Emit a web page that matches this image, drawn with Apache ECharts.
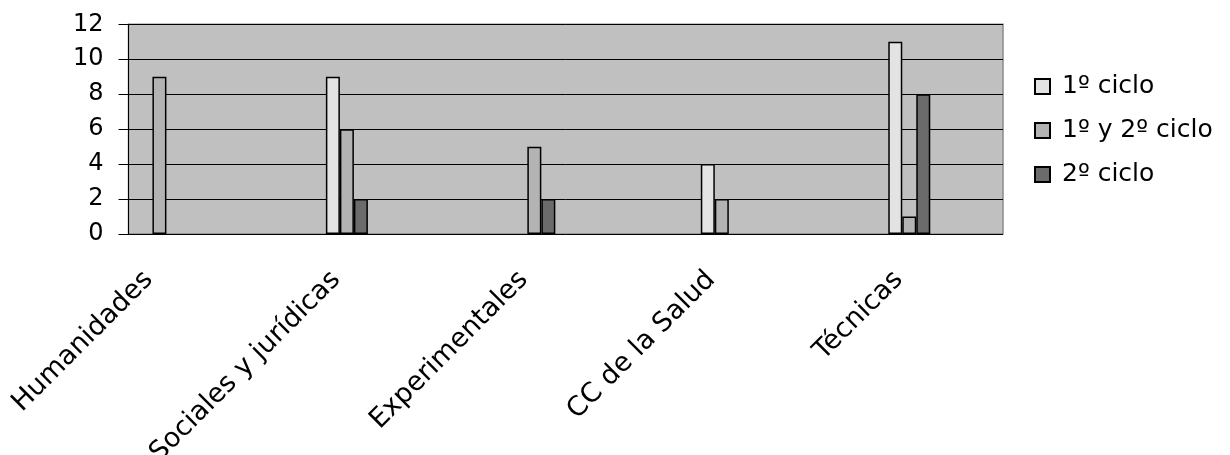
<!DOCTYPE html>
<html>
<head>
<meta charset="utf-8">
<script src="https://cdn.jsdelivr.net/npm/echarts@6/dist/echarts.min.js"></script>
<style>
html,body{margin:0;padding:0;background:#fff;}
#chart{width:1230px;height:455px;}
</style>
</head>
<body>
<div id="chart"></div>
<script>
const categories = ['Humanidades', 'Sociales y jurídicas', 'Experimentales', 'CC de la Salud', 'Técnicas'];
const seriesNames = ['1º ciclo', '1º y 2º ciclo', '2º ciclo'];
const ciclo1 = [0, 9, 0, 4, 11];
const ciclo12 = [9, 6, 5, 2, 1];
const ciclo2 = [0, 2, 2, 0, 8];
const yTicks = [0, 2, 4, 6, 8, 10, 12];

const colors = ['#e3e3e3', '#b3b3b3', '#6b6b6b'];
const font = '"DejaVu Sans", sans-serif';

const chart = echarts.init(document.getElementById('chart'));
const values = [ciclo1, ciclo12, ciclo2];

chart.setOption({
  animation: false,
  legend: {
    orient: 'vertical',
    left: 1029,
    top: 69,
    itemWidth: 15,
    itemHeight: 15,
    itemGap: 19,
    icon: 'rect',
    textStyle: { fontFamily: font, fontSize: 25, color: '#000', padding: [0, 0, 0, 7] },
    data: seriesNames
  },
  grid: [
    { left: 65.7, right: 227, top: 24.3, bottom: 221, show: false, containLabel: false, outerBoundsMode: 'none' },
    { left: 128.5, right: 227, top: 24.3, bottom: 221, show: true, backgroundColor: '#c0c0c0', borderColor: '#8a8a8a', borderWidth: 1.5, z: 0, containLabel: false, outerBoundsMode: 'none' }
  ],
  xAxis: [
    {
      type: 'category', gridIndex: 0, data: categories,
      axisLine: { show: false }, axisTick: { show: false },
      axisLabel: { rotate: 45, margin: 31, padding: [0, 15, 0, 0], fontFamily: font, fontSize: 27, color: '#000', interval: 0 }
    },
    {
      type: 'value', gridIndex: 1, show: false
    }
  ],
  yAxis: [
    {
      type: 'value', gridIndex: 0, min: 0, max: 12, interval: 2, show: false
    },
    {
      type: 'value', gridIndex: 1, min: 0, max: 12, interval: 2,
      axisLine: { show: true, lineStyle: { color: '#000', width: 1 } },
      axisTick: { show: true, length: 10, lineStyle: { color: '#000' } },
      splitLine: { show: true, lineStyle: { color: '#000', width: 1 } },
      axisLabel: { fontFamily: font, fontSize: 24, color: '#000', margin: 25,
        formatter: v => (yTicks.indexOf(v) >= 0 ? String(v) : '') }
    }
  ],
  series: seriesNames.map((name, i) => ({
    name: name,
    type: 'bar',
    xAxisIndex: 0,
    yAxisIndex: 0,
    data: values[i].map(v => (v === 0 ? null : v)),
    barWidth: 14,
    barGap: '0%',
    z: 3,
    itemStyle: { color: colors[i], borderColor: '#000', borderWidth: 1.5 }
  }))
});
</script>
</body>
</html>
